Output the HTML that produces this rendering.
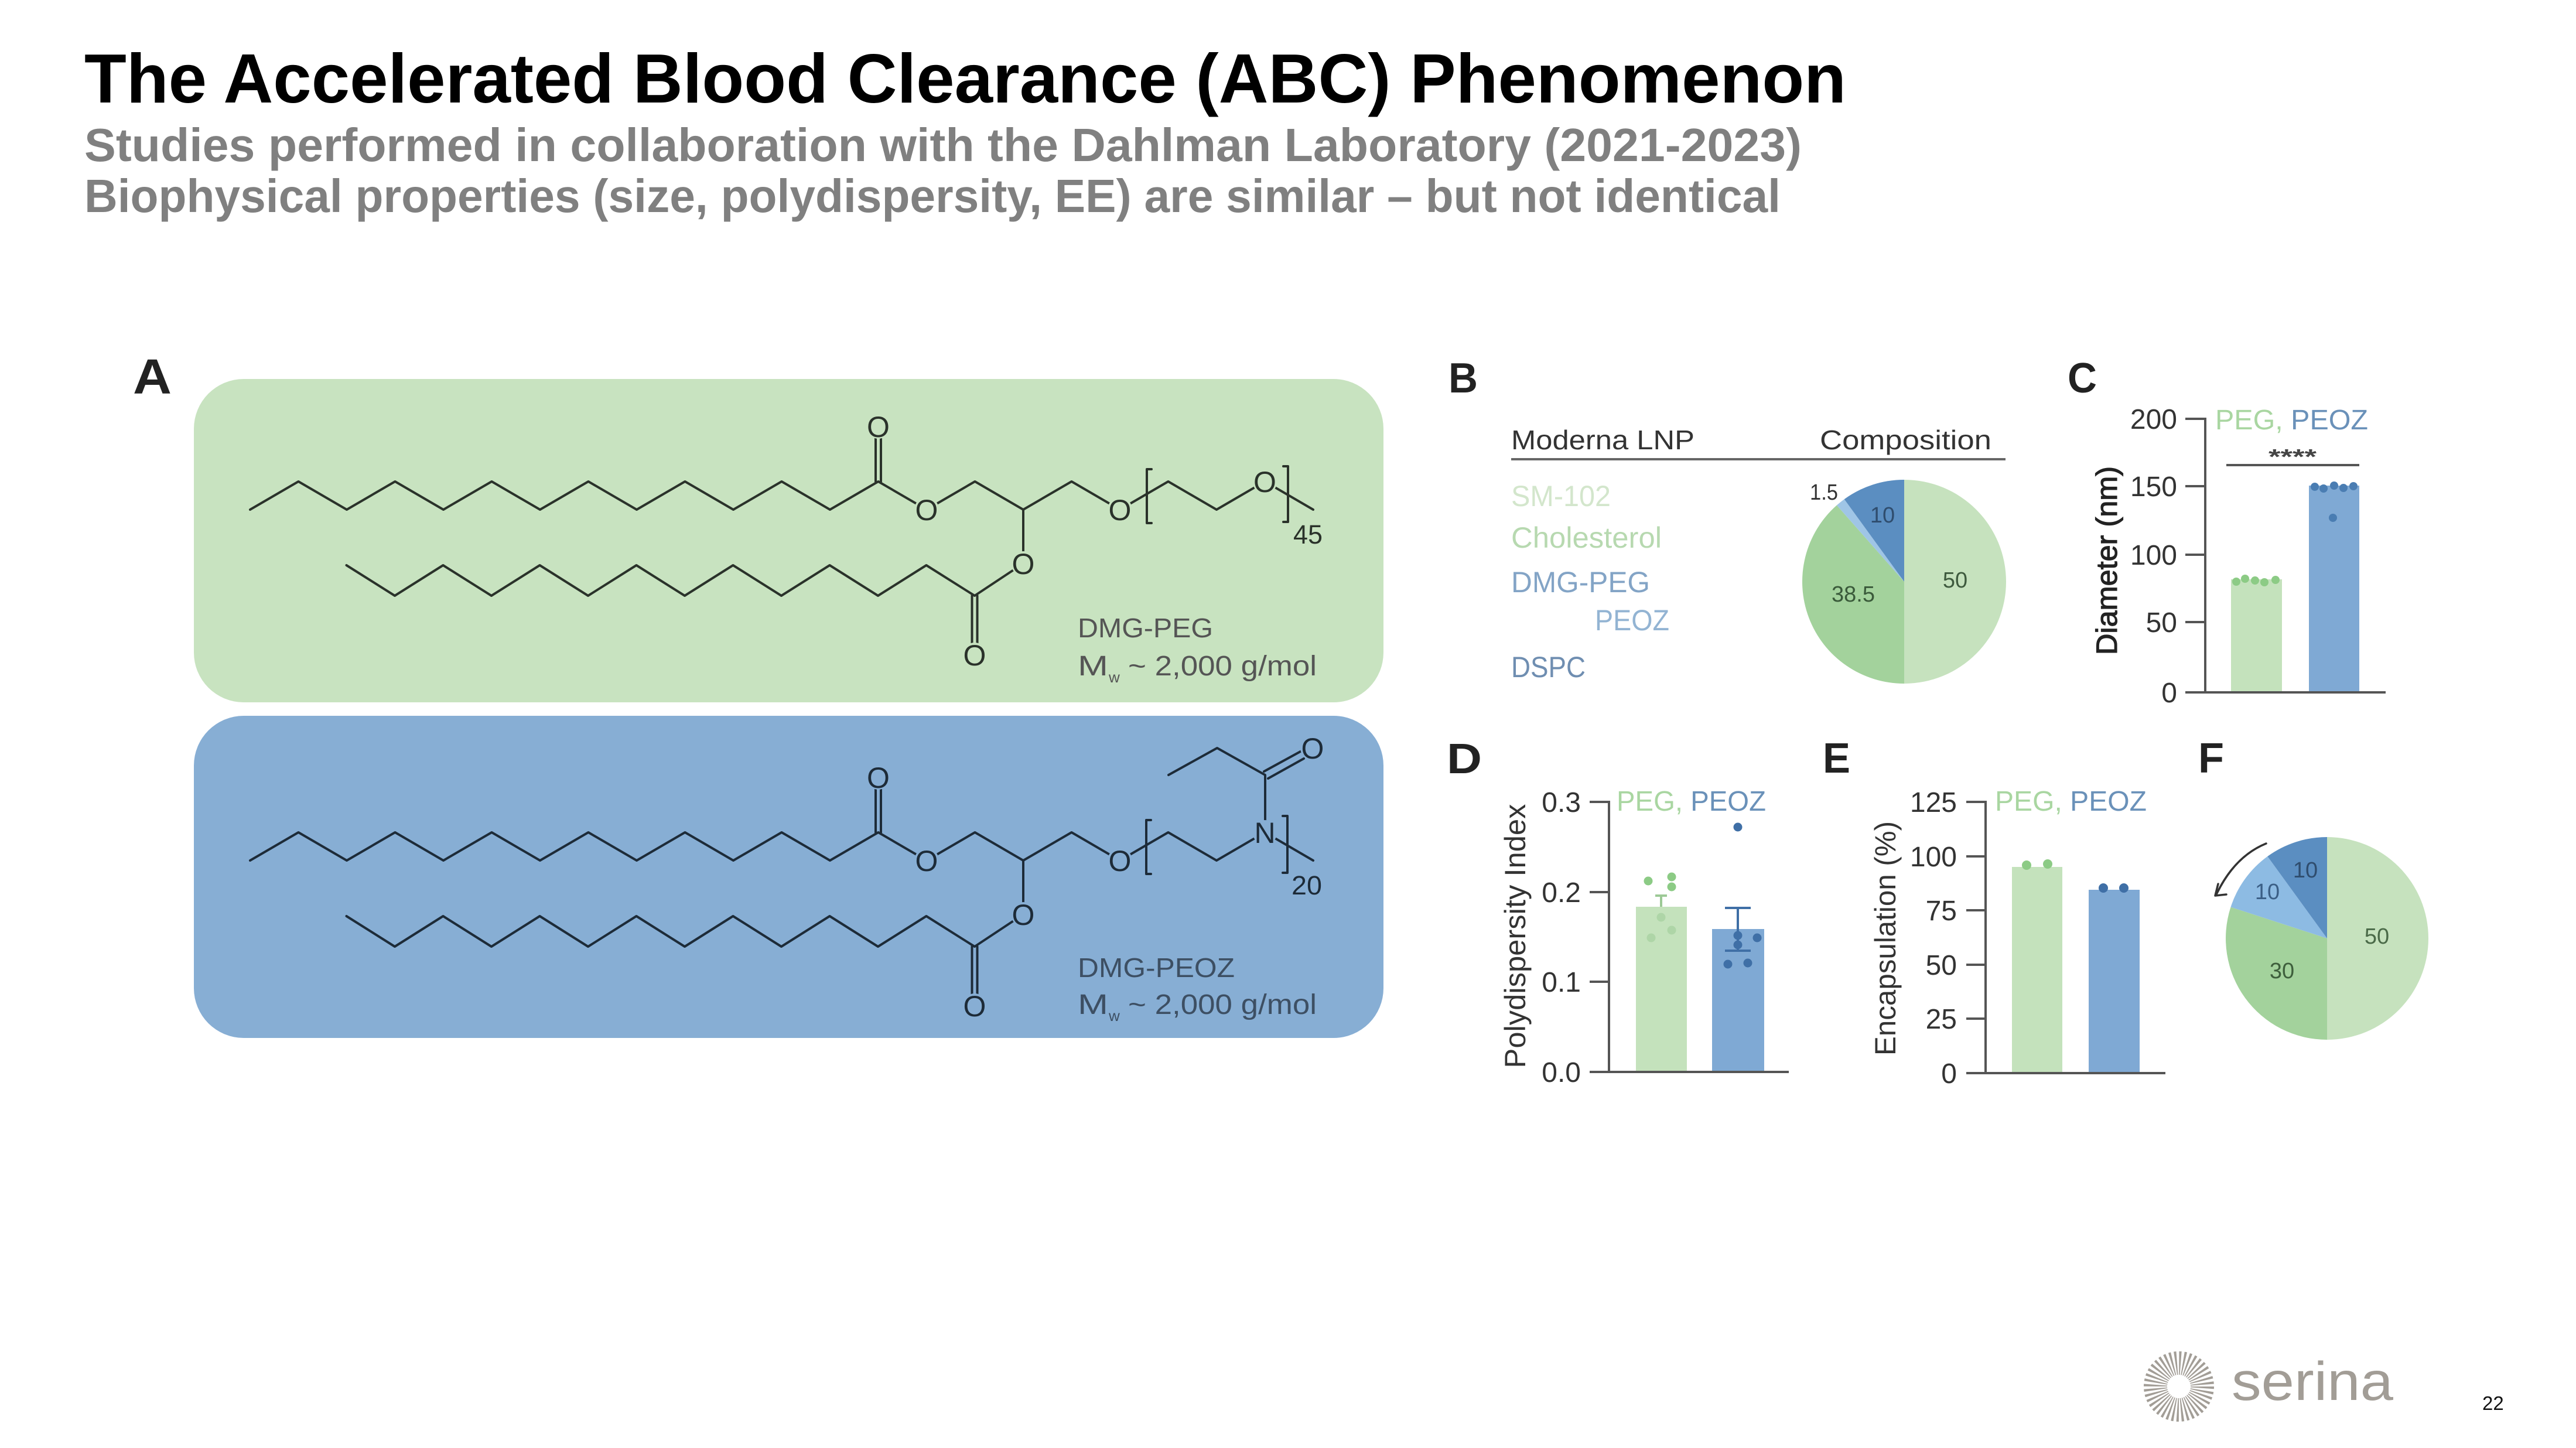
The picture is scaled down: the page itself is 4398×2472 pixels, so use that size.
<!DOCTYPE html>
<html>
<head>
<meta charset="utf-8">
<style>
html,body{margin:0;padding:0;background:#fff;}
svg{display:block;}
</style>
</head>
<body>
<svg xmlns="http://www.w3.org/2000/svg" width="4398" height="2472" viewBox="0 0 4398 2472" font-family="'Liberation Sans', Arial, sans-serif">
<rect width="4398" height="2472" fill="#ffffff"/>

<!-- Title -->
<text x="144" y="175" font-size="119" font-weight="bold" fill="#000" textLength="3008" lengthAdjust="spacingAndGlyphs">The Accelerated Blood Clearance (ABC) Phenomenon</text>
<text x="144" y="275" font-size="80" font-weight="bold" fill="#808080" textLength="2932" lengthAdjust="spacingAndGlyphs">Studies performed in collaboration with the Dahlman Laboratory (2021-2023)</text>
<text x="144" y="362" font-size="80" font-weight="bold" fill="#808080" textLength="2896" lengthAdjust="spacingAndGlyphs">Biophysical properties (size, polydispersity, EE) are similar – but not identical</text>

<!-- Panel letters -->
<g font-weight="bold" fill="#222">
<text x="227" y="672" font-size="84" textLength="66" lengthAdjust="spacingAndGlyphs">A</text>
<text x="2473" y="670" font-size="72" textLength="50" lengthAdjust="spacingAndGlyphs">B</text>
<text x="3530" y="670" font-size="72" textLength="50" lengthAdjust="spacingAndGlyphs">C</text>
<text x="2470" y="1320" font-size="72" textLength="60" lengthAdjust="spacingAndGlyphs">D</text>
<text x="3112" y="1319" font-size="72" textLength="47" lengthAdjust="spacingAndGlyphs">E</text>
<text x="3753" y="1319" font-size="72" textLength="44" lengthAdjust="spacingAndGlyphs">F</text>
</g>

<!-- ============ Panel A : green box (DMG-PEG) ============ -->
<rect x="331" y="647" width="2031" height="552" rx="85" ry="85" fill="#c8e3c0"/>
<g fill="none" stroke="#2a322a" stroke-width="4" stroke-linejoin="round" stroke-linecap="round">
  <polyline points="427,870 509.5,822 592,870 674.5,822 757,870 839.5,822 922,870 1004.5,822 1087,870 1169.5,822 1252,870 1334.5,822 1417,870 1499.5,822 1582,870 1664.5,822 1747,870 1829.5,822 1912,870 1994.5,822 2077,870 2159.5,822 2242,870"/>
  <polyline points="591.5,965 674,1017 756.5,965 839,1017 921.5,965 1004,1017 1086.5,965 1169,1017 1251.5,965 1334,1017 1416.5,965 1499,1017 1581.5,965 1664,1017 1747,962 1747,870"/>
  <line x1="1495" y1="822" x2="1495" y2="746"/>
  <line x1="1504" y1="822" x2="1504" y2="746"/>
  <line x1="1659.5" y1="1017" x2="1659.5" y2="1100"/>
  <line x1="1668.5" y1="1017" x2="1668.5" y2="1100"/>
  <path d="M1966,801 L1958,801 L1958,893 L1966,893"/>
  <path d="M2191,796 L2199,796 L2199,891 L2191,891"/>
</g>
<g fill="#c8e3c0">
  <circle cx="1499.5" cy="728" r="21"/>
  <circle cx="1582" cy="870" r="21"/>
  <circle cx="1912" cy="870" r="21"/>
  <circle cx="2159.5" cy="822" r="21"/>
  <circle cx="1747" cy="962" r="21"/>
  <circle cx="1664" cy="1118" r="21"/>
</g>
<g font-size="50" fill="#2a322a" text-anchor="middle">
  <text x="1499.5" y="746">O</text>
  <text x="1582" y="888">O</text>
  <text x="1912" y="888">O</text>
  <text x="2159.5" y="840">O</text>
  <text x="1747" y="980">O</text>
  <text x="1664" y="1136">O</text>
</g>
<text x="2208" y="928" font-size="45" fill="#2a322a" textLength="50" lengthAdjust="spacingAndGlyphs">45</text>
<g fill="#555">
  <text x="1840" y="1088" font-size="46" textLength="231" lengthAdjust="spacingAndGlyphs">DMG-PEG</text>
  <text x="1840" y="1153" font-size="48" textLength="52" lengthAdjust="spacingAndGlyphs">M</text>
  <text x="1893" y="1165" font-size="26">w</text>
  <text x="1926" y="1153" font-size="48" textLength="322" lengthAdjust="spacingAndGlyphs">~ 2,000 g/mol</text>
</g>

<!-- ============ Panel A : blue box (DMG-PEOZ) ============ -->
<rect x="331" y="1222" width="2031" height="550" rx="85" ry="85" fill="#87aed4"/>
<g fill="none" stroke="#1d2b38" stroke-width="4" stroke-linejoin="round" stroke-linecap="round">
  <polyline points="427,1469 509.5,1421 592,1469 674.5,1421 757,1469 839.5,1421 922,1469 1004.5,1421 1087,1469 1169.5,1421 1252,1469 1334.5,1421 1417,1469 1499.5,1421 1582,1469 1664.5,1421 1747,1469 1829.5,1421 1912,1469 1994.5,1421 2077,1469 2159.5,1421 2242,1469"/>
  <polyline points="591.5,1564 674,1616 756.5,1564 839,1616 921.5,1564 1004,1616 1086.5,1564 1169,1616 1251.5,1564 1334,1616 1416.5,1564 1499,1616 1581.5,1564 1664,1616 1747,1561 1747,1469"/>
  <line x1="1495" y1="1421" x2="1495" y2="1345"/>
  <line x1="1504" y1="1421" x2="1504" y2="1345"/>
  <line x1="1659.5" y1="1616" x2="1659.5" y2="1699"/>
  <line x1="1668.5" y1="1616" x2="1668.5" y2="1699"/>
  <path d="M1965,1400 L1957,1400 L1957,1492 L1965,1492"/>
  <path d="M2190,1393 L2198,1393 L2198,1490 L2190,1490"/>
  <polyline points="2160,1421 2160,1323 2078,1277 1995,1323"/>
  <line x1="2158" y1="1317" x2="2222" y2="1282"/>
  <line x1="2165" y1="1329" x2="2226" y2="1295"/>
</g>
<g fill="#87aed4">
  <circle cx="1499.5" cy="1327" r="21"/>
  <circle cx="1582" cy="1469" r="21"/>
  <circle cx="1912" cy="1469" r="21"/>
  <circle cx="2159.5" cy="1421" r="21"/>
  <circle cx="1747" cy="1561" r="21"/>
  <circle cx="1664" cy="1717" r="21"/>
  <circle cx="2241" cy="1277" r="21"/>
</g>
<g font-size="50" fill="#1d2b38" text-anchor="middle">
  <text x="1499.5" y="1345">O</text>
  <text x="1582" y="1487">O</text>
  <text x="1912" y="1487">O</text>
  <text x="2159.5" y="1439">N</text>
  <text x="1747" y="1579">O</text>
  <text x="1664" y="1735">O</text>
  <text x="2241" y="1295">O</text>
</g>
<text x="2205" y="1527" font-size="45" fill="#1d2b38" textLength="52" lengthAdjust="spacingAndGlyphs">20</text>
<g fill="#3d4f63">
  <text x="1840" y="1668" font-size="46" textLength="268" lengthAdjust="spacingAndGlyphs">DMG-PEOZ</text>
  <text x="1840" y="1731" font-size="48" textLength="52" lengthAdjust="spacingAndGlyphs">M</text>
  <text x="1893" y="1743" font-size="26">w</text>
  <text x="1926" y="1731" font-size="48" textLength="322" lengthAdjust="spacingAndGlyphs">~ 2,000 g/mol</text>
</g>

<!-- ============ Panel B ============ -->
<text x="2580" y="767" font-size="46" fill="#333" textLength="313" lengthAdjust="spacingAndGlyphs">Moderna LNP</text>
<text x="3107" y="767" font-size="46" fill="#333" textLength="293" lengthAdjust="spacingAndGlyphs">Composition</text>
<line x1="2580" y1="784" x2="3424" y2="784" stroke="#666" stroke-width="4"/>
<text x="2580" y="864" font-size="50" fill="#d3e6cc" textLength="170" lengthAdjust="spacingAndGlyphs">SM-102</text>
<text x="2580" y="935" font-size="50" fill="#b7d9b0" textLength="257" lengthAdjust="spacingAndGlyphs">Cholesterol</text>
<text x="2580" y="1011" font-size="50" fill="#83a4c6" textLength="237" lengthAdjust="spacingAndGlyphs">DMG-PEG</text>
<text x="2723" y="1076" font-size="50" fill="#93b4d3" textLength="127" lengthAdjust="spacingAndGlyphs">PEOZ</text>
<text x="2580" y="1156" font-size="50" fill="#6f8eb1" textLength="127" lengthAdjust="spacingAndGlyphs">DSPC</text>

<path d="M3251,993 L3251,819 A174,174 0 0 1 3251,1167 Z" fill="#c6e2be"/>
<path d="M3251,993 L3251,1167 A174,174 0 0 1 3135.9,862.5 Z" fill="#a3d29c"/>
<path d="M3251,993 L3135.9,862.5 A174,174 0 0 1 3148.7,852.2 Z" fill="#9fc5e6"/>
<path d="M3251,993 L3148.7,852.2 A174,174 0 0 1 3251,819 Z" fill="#5b8ec1"/>
<g font-size="38">
  <text x="3090" y="853" fill="#333" textLength="48" lengthAdjust="spacingAndGlyphs">1.5</text>
  <text x="3214" y="892" fill="#2f4d6e" text-anchor="middle">10</text>
  <text x="3338" y="1003" fill="#3e5a3e" text-anchor="middle">50</text>
  <text x="3164" y="1027" fill="#3a5a3a" text-anchor="middle">38.5</text>
</g>

<!-- ============ Panel C ============ -->
<rect x="3809" y="989" width="87" height="193" fill="#c4e2bc"/>
<rect x="3942" y="829" width="86" height="353" fill="#7fa9d4"/>
<g fill="#8ccb85">
  <circle cx="3818" cy="993" r="7"/><circle cx="3833" cy="988" r="7"/><circle cx="3850" cy="991" r="7"/><circle cx="3866" cy="994" r="7"/><circle cx="3885" cy="990" r="7"/>
</g>
<g fill="#4a7db2">
  <circle cx="3952" cy="831" r="7"/><circle cx="3967" cy="834" r="7"/><circle cx="3985" cy="829" r="7"/><circle cx="4001" cy="833" r="7"/><circle cx="4018" cy="830" r="7"/><circle cx="3983" cy="884" r="7"/>
</g>
<g stroke="#555" stroke-width="4" fill="none">
  <polyline points="3731,715 3765,715 3765,1182"/>
  <line x1="3731" y1="1182" x2="4073" y2="1182"/>
  <line x1="3731" y1="830" x2="3765" y2="830"/>
  <line x1="3731" y1="947" x2="3765" y2="947"/>
  <line x1="3731" y1="1062" x2="3765" y2="1062"/>
  <line x1="3801" y1="794" x2="4028" y2="794"/>
</g>
<g font-size="48" fill="#333" text-anchor="end">
  <text x="3717" y="732">200</text>
  <text x="3717" y="847">150</text>
  <text x="3717" y="964">100</text>
  <text x="3717" y="1079">50</text>
  <text x="3717" y="1199">0</text>
</g>
<text transform="translate(3614,957) rotate(-90)" text-anchor="middle" font-size="50" fill="#222" stroke="#222" stroke-width="1.2" textLength="322" lengthAdjust="spacingAndGlyphs">Diameter (nm)</text>
<text x="3782" y="733" font-size="48" textLength="261" lengthAdjust="spacingAndGlyphs"><tspan fill="#a9d6a1">PEG, </tspan><tspan fill="#6a91b9">PEOZ</tspan></text>
<text x="3873" y="792" font-size="36" font-weight="bold" fill="#444" textLength="82" lengthAdjust="spacingAndGlyphs">****</text>

<!-- ============ Panel D ============ -->
<rect x="2793" y="1548" width="87" height="282" fill="#c4e2bc"/>
<rect x="2923" y="1586" width="89" height="244" fill="#7fa9d4"/>
<g stroke="#9cc996" stroke-width="4" fill="none">
  <line x1="2836" y1="1548" x2="2836" y2="1529"/><line x1="2826" y1="1529" x2="2846" y2="1529"/>
</g>
<g stroke="#3f6fa6" stroke-width="4" fill="none">
  <line x1="2967" y1="1586" x2="2967" y2="1550"/><line x1="2945" y1="1550" x2="2989" y2="1550"/>
  <line x1="2967" y1="1586" x2="2967" y2="1623"/><line x1="2945" y1="1623" x2="2989" y2="1623"/>
</g>
<g fill="#8ccb85"><circle cx="2814" cy="1504" r="7.5"/><circle cx="2854" cy="1497" r="7.5"/><circle cx="2854" cy="1514" r="7.5"/></g>
<g fill="#aed5a7"><circle cx="2836" cy="1566" r="7.5"/><circle cx="2819" cy="1601" r="7.5"/><circle cx="2854" cy="1588" r="7.5"/></g>
<g fill="#3f6fa6"><circle cx="2967" cy="1412" r="7.5"/><circle cx="2967" cy="1597" r="7.5"/><circle cx="3000" cy="1601" r="7.5"/><circle cx="2967" cy="1613" r="7.5"/><circle cx="2950" cy="1646" r="7.5"/><circle cx="2984" cy="1644" r="7.5"/></g>
<g stroke="#555" stroke-width="4" fill="none">
  <polyline points="2714,1369 2747,1369 2747,1830"/>
  <line x1="2714" y1="1830" x2="3054" y2="1830"/>
  <line x1="2714" y1="1523" x2="2747" y2="1523"/>
  <line x1="2714" y1="1676" x2="2747" y2="1676"/>
</g>
<g font-size="48" fill="#333" text-anchor="end">
  <text x="2699" y="1386">0.3</text>
  <text x="2699" y="1540">0.2</text>
  <text x="2699" y="1693">0.1</text>
  <text x="2699" y="1847">0.0</text>
</g>
<text transform="translate(2604,1598) rotate(-90)" text-anchor="middle" font-size="50" fill="#333" textLength="451" lengthAdjust="spacingAndGlyphs">Polydispersity Index</text>
<text x="2760" y="1384" font-size="48" textLength="255" lengthAdjust="spacingAndGlyphs"><tspan fill="#a9d6a1">PEG, </tspan><tspan fill="#6a91b9">PEOZ</tspan></text>

<!-- ============ Panel E ============ -->
<rect x="3435" y="1480" width="86" height="352" fill="#c4e2bc"/>
<rect x="3566" y="1519" width="87" height="313" fill="#7fa9d4"/>
<g fill="#8ccb85"><circle cx="3460" cy="1477" r="8"/><circle cx="3496" cy="1475" r="8"/></g>
<g fill="#3f6fa6"><circle cx="3591" cy="1516" r="8"/><circle cx="3626" cy="1516" r="8"/></g>
<g stroke="#555" stroke-width="4" fill="none">
  <polyline points="3357,1369 3390,1369 3390,1832"/>
  <line x1="3357" y1="1832" x2="3697" y2="1832"/>
  <line x1="3357" y1="1462" x2="3390" y2="1462"/>
  <line x1="3357" y1="1554" x2="3390" y2="1554"/>
  <line x1="3357" y1="1647" x2="3390" y2="1647"/>
  <line x1="3357" y1="1739" x2="3390" y2="1739"/>
</g>
<g font-size="48" fill="#333" text-anchor="end">
  <text x="3341" y="1386">125</text>
  <text x="3341" y="1479">100</text>
  <text x="3341" y="1571">75</text>
  <text x="3341" y="1664">50</text>
  <text x="3341" y="1756">25</text>
  <text x="3341" y="1849">0</text>
</g>
<text transform="translate(3236,1602) rotate(-90)" text-anchor="middle" font-size="50" fill="#333" textLength="400" lengthAdjust="spacingAndGlyphs">Encapsulation (%)</text>
<text x="3406" y="1384" font-size="48" textLength="259" lengthAdjust="spacingAndGlyphs"><tspan fill="#a9d6a1">PEG, </tspan><tspan fill="#6a91b9">PEOZ</tspan></text>

<!-- ============ Panel F ============ -->
<path d="M3973,1602 L3973,1429 A173,173 0 0 1 3973,1775 Z" fill="#c6e2be"/>
<path d="M3973,1602 L3973,1775 A173,173 0 0 1 3808.5,1548.5 Z" fill="#a3d29c"/>
<path d="M3973,1602 L3808.5,1548.5 A173,173 0 0 1 3871.3,1462 Z" fill="#8dbbe3"/>
<path d="M3973,1602 L3871.3,1462 A173,173 0 0 1 3973,1429 Z" fill="#5b8ec1"/>
<g font-size="38" text-anchor="middle">
  <text x="4058" y="1611" fill="#4a6a48">50</text>
  <text x="3896" y="1670" fill="#3e5f3c">30</text>
  <text x="3871" y="1535" fill="#3b5f86">10</text>
  <text x="3936" y="1498" fill="#2f4d6e">10</text>
</g>
<path d="M3869,1440 Q3815,1462 3784,1527" fill="none" stroke="#333" stroke-width="3.5" stroke-linecap="round"/>
<path d="M3787,1509 L3782,1529 L3801,1527" fill="none" stroke="#333" stroke-width="3.5" stroke-linecap="round" stroke-linejoin="round"/>

<!-- ============ Logo & page number ============ -->
<circle cx="3720" cy="2367" r="40" fill="none" stroke="#a29d96" stroke-width="40" stroke-dasharray="2.9 3.383"/>
<text x="3810" y="2390" font-size="93" fill="#a29d96" textLength="276" lengthAdjust="spacingAndGlyphs">serina</text>
<text x="4238" y="2407" font-size="33" fill="#111">22</text>

</svg>
</body>
</html>
